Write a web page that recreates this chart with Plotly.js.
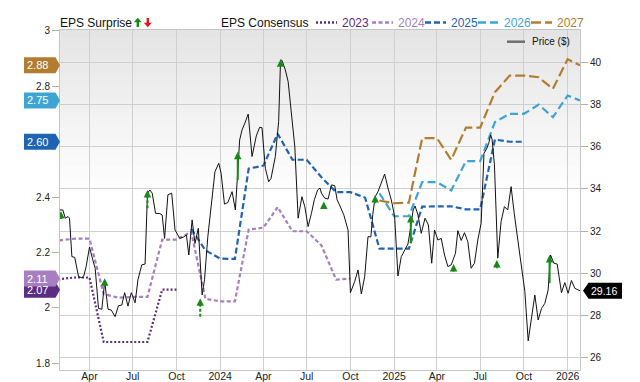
<!DOCTYPE html>
<html><head><meta charset="utf-8">
<script src="https://cdn.plot.ly/plotly-3.0.1.min.js"></script>
<style>html,body{margin:0;padding:0;background:#fff}#chart{width:640px;height:382px}</style>
</head><body><div id="chart"></div>
<script>
// ---------- DATA ----------
const priceDates = [
 '2023-01-29',
 '2023-02-04','2023-02-09','2023-02-15','2023-02-18','2023-02-23',
 '2023-03-01','2023-03-09','2023-03-16','2023-03-20','2023-03-25',
 '2023-04-01','2023-04-08','2023-04-13','2023-04-20','2023-04-27',
 '2023-05-03','2023-05-10','2023-05-17','2023-05-25',
 '2023-06-01','2023-06-08','2023-06-14','2023-06-21','2023-06-28',
 '2023-07-06','2023-07-12','2023-07-20','2023-07-27',
 '2023-08-01','2023-08-06','2023-08-11','2023-08-18','2023-08-27',
 '2023-09-01','2023-09-06','2023-09-13','2023-09-21','2023-09-28',
 '2023-10-08','2023-10-15','2023-10-22','2023-10-27',
 '2023-11-03','2023-11-09','2023-11-16','2023-11-24','2023-11-29',
 '2023-12-06','2023-12-15','2023-12-21','2023-12-29',
 '2024-01-03','2024-01-10','2024-01-17','2024-01-26',
 '2024-02-02','2024-02-11','2024-02-16','2024-02-22','2024-02-29',
 '2024-03-08','2024-03-17','2024-03-24','2024-03-29',
 '2024-04-05','2024-04-12','2024-04-17','2024-04-26',
 '2024-05-03','2024-05-07','2024-05-10','2024-05-17','2024-05-23','2024-05-30',
 '2024-06-06','2024-06-13','2024-06-21','2024-06-27',
 '2024-07-04','2024-07-11','2024-07-17','2024-07-24','2024-07-29',
 '2024-08-01','2024-08-08','2024-08-15','2024-08-22','2024-08-29',
 '2024-09-03','2024-09-08','2024-09-17','2024-09-26',
 '2024-10-01','2024-10-10','2024-10-17','2024-10-24','2024-10-31',
 '2024-11-07','2024-11-13','2024-11-17','2024-11-22','2024-11-28',
 '2024-12-05','2024-12-12','2024-12-19','2024-12-26',
 '2025-01-02','2025-01-09','2025-01-16','2025-01-23','2025-01-30',
 '2025-02-05','2025-02-10','2025-02-14','2025-02-20','2025-02-27',
 '2025-03-07','2025-03-14','2025-03-21','2025-03-27',
 '2025-04-03','2025-04-10','2025-04-17','2025-04-24',
 '2025-05-01','2025-05-10','2025-05-15','2025-05-22','2025-05-29',
 '2025-06-05','2025-06-12','2025-06-19','2025-06-26',
 '2025-07-03','2025-07-09','2025-07-14','2025-07-19','2025-07-23','2025-07-26','2025-07-31',
 '2025-08-07','2025-08-14','2025-08-21','2025-08-28',
 '2025-09-04','2025-09-11','2025-09-18','2025-09-25',
 '2025-10-03','2025-10-10','2025-10-17','2025-10-24','2025-10-31',
 '2025-11-07','2025-11-14','2025-11-21','2025-11-26',
 '2025-12-03','2025-12-10','2025-12-19','2025-12-26',
 '2026-01-02','2026-01-09','2026-01-16','2026-01-23','2026-01-27'
];
const priceValues = [
 33.0,
 33.0,32.61,32.69,32.61,30.78,
 30.75,29.83,29.78,29.86,30.31,
 31.23,30.63,30.23,28.32,28.28,
 29.60,28.28,28.24,27.93,
 28.45,28.48,29.07,28.43,29.07,
 28.59,29.68,30.39,30.43,
 33.80,33.95,33.80,32.84,32.83,
 32.76,31.65,33.72,33.80,32.05,
 31.65,31.70,31.81,30.86,
 32.53,31.41,32.13,28.96,29.68,
 31.73,33.80,34.82,35.22,
 34.74,33.28,33.35,33.87,
 33.0,36.33,36.81,37.13,37.56,
 35.54,36.52,36.93,36.91,
 34.98,34.34,34.50,35.54,
 37.20,40.13,40.11,39.66,39.10,37.43,
 36.01,32.61,33.63,33.16,
 32.21,32.84,33.48,33.95,34.04,
 33.80,33.56,33.52,34.19,34.16,
 33.48,33.24,32.77,32.05,
 29.07,29.60,30.15,29.01,29.83,
 31.73,31.72,32.77,33.63,33.87,
 34.34,34.71,34.04,33.48,
 32.69,29.86,30.78,31.07,31.38,
 32.21,33.0,33.19,32.77,31.89,
 32.61,32.29,30.47,32.05,
 31.57,31.65,30.86,30.31,
 30.39,30.94,32.02,31.55,31.92,
 31.49,30.23,30.47,31.57,
 32.37,35.70,35.88,36.17,36.57,36.36,35.14,
 30.71,32.45,33.16,33.0,
 34.11,32.77,31.57,30.31,
 29.12,26.78,27.77,28.96,27.77,
 28.32,28.56,29.20,30.86,
 30.47,30.43,29.07,29.55,
 29.04,29.65,29.28,29.20,29.16
];

const eps2023Dates = ['2023-01-01','2023-02-01','2023-03-01','2023-04-01','2023-05-01','2023-06-01','2023-07-01','2023-08-01','2023-09-01','2023-10-01'];
const eps2023Values = [2.09,2.105,2.11,2.11,1.877,1.877,1.877,1.877,2.066,2.066];

const eps2024Dates = ['2023-01-01','2023-02-01','2023-03-01','2023-04-01','2023-05-01','2023-06-01','2023-07-01','2023-08-01','2023-09-01','2023-10-01','2023-11-01','2023-12-01','2024-01-01','2024-02-01','2024-03-01','2024-04-01','2024-05-01','2024-06-01','2024-07-01','2024-08-01','2024-09-01','2024-10-01'];
const eps2024Values = [2.23,2.245,2.25,2.25,2.05,2.037,2.04,2.04,2.247,2.247,2.275,2.033,2.024,2.024,2.283,2.29,2.364,2.277,2.277,2.226,2.102,2.106];

const eps2025Dates = ['2023-11-01','2023-12-01','2024-01-01','2024-02-01','2024-03-01','2024-04-01','2024-05-01','2024-06-01','2024-07-01','2024-08-01','2024-09-01','2024-10-01','2024-11-01','2024-12-01','2025-01-01','2025-02-01','2025-03-01','2025-04-01','2025-05-01','2025-06-01','2025-07-01','2025-08-01','2025-09-01','2025-10-01'];
const eps2025Values = [2.286,2.208,2.178,2.177,2.503,2.514,2.629,2.535,2.535,2.472,2.418,2.418,2.398,2.214,2.214,2.214,2.366,2.367,2.367,2.356,2.356,2.608,2.60,2.60];

const eps2026Dates = ['2024-12-01','2025-01-01','2025-02-01','2025-03-01','2025-04-01','2025-05-01','2025-06-01','2025-07-01','2025-08-01','2025-09-01','2025-10-01','2025-11-01','2025-12-01','2026-01-01','2026-01-27'];
const eps2026Values = [2.414,2.331,2.331,2.454,2.454,2.424,2.530,2.530,2.671,2.701,2.701,2.734,2.689,2.767,2.749];

const eps2027Dates = ['2024-12-01','2025-01-01','2025-02-01','2025-03-01','2025-04-01','2025-05-01','2025-06-01','2025-07-01','2025-08-01','2025-09-01','2025-10-01','2025-11-01','2025-12-01','2026-01-01','2026-01-27'];
const eps2027Values = [2.388,2.378,2.38,2.613,2.613,2.535,2.651,2.651,2.779,2.839,2.839,2.833,2.791,2.898,2.876];

const surpriseDates = ['2023-01-31','2023-05-03','2023-08-01','2023-11-20','2024-02-07','2024-05-07','2024-08-06','2024-11-22','2025-02-05','2025-05-06','2025-08-05','2025-11-24'];
const surpriseTop   = [32.95,29.75,33.95,28.80,35.77,40.16,33.40,33.71,32.76,30.43,30.62,30.86];
const surpriseBase  = [32.57,29.36,33.08,27.93,34.43,39.85,33.08,33.32,31.42,30.07,30.23,29.52];
const surpriseDashed = [false,false,true,true,false,false,false,false,false,false,false,false];

const xTickDates  = ['2023-04-01','2023-07-01','2023-10-01','2024-01-01','2024-04-01','2024-07-01','2024-10-01','2025-01-01','2025-04-01','2025-07-01','2025-10-01','2026-01-01'];
const xTickLabels = ['Apr','Jul','Oct','2024','Apr','Jul','Oct','2025','Apr','Jul','Oct','2026'];
const epsTicks  = [1.8,2,2.2,2.4,2.8,3];
const epsTickLabels = ['1.8','2','2.2','2.4','2.8','3'];
const priceTicks = [26,28,30,32,34,36,38,40];

// ---------- STYLE / LAYOUT ----------
const FONT = 'Liberation Sans, Arial, Helvetica, sans-serif';
const M = {l:60, r:60, t:30, b:12};
const PW = 640 - M.l - M.r, PH = 382 - M.t - M.b;
const xRange = ['2023-01-29','2026-01-27'];
const epsRange = [1.776, 3.0035];
const priceRange = [25.394, 41.554];
const GREEN = '#178a17';

const series = [
  {label:'2023', x:eps2023Dates, y:eps2023Values, color:'#5b2c83', dash:'2px,2px', width:2.2},
  {label:'2024', x:eps2024Dates, y:eps2024Values, color:'#a77fc1', dash:'4px,2.5px', width:2.2},
  {label:'2025', x:eps2025Dates, y:eps2025Values, color:'#1f63b3', dash:'6px,3px', width:2.2},
  {label:'2026', x:eps2026Dates, y:eps2026Values, color:'#3ea5d3', dash:'8px,4px', width:2.2},
  {label:'2027', x:eps2027Dates, y:eps2027Values, color:'#b27d30', dash:'10px,4px', width:2.2}
];

const px2p = px => (px - M.l) / PW;
const py2p = py => (M.t + PH - py) / PH;
const eps2p = v => (v - epsRange[0]) / (epsRange[1] - epsRange[0]);
const price2p = v => (v - priceRange[0]) / (priceRange[1] - priceRange[0]);

const traces = [];
series.forEach(s => traces.push({
  type:'scatter', mode:'lines', x:s.x, y:s.y, yaxis:'y',
  line:{color:s.color, width:s.width, dash:s.dash}, hoverinfo:'skip'
}));
traces.push({type:'scatter', mode:'lines', x:priceDates, y:priceValues, yaxis:'y2',
  line:{color:'#111', width:1}, hoverinfo:'skip'});

// surprise arrows: shafts + heads
['solid','dashed'].forEach(kind => {
  const xs = [], ys = [];
  surpriseDates.forEach((d,i) => {
    if ((kind === 'dashed') !== surpriseDashed[i]) return;
    xs.push(d, d, null); ys.push(surpriseBase[i], surpriseTop[i] - 0.15, null);
  });
  traces.push({type:'scatter', mode:'lines', x:xs, y:ys, yaxis:'y2', connectgaps:false,
    line:{color:GREEN, width:2, dash: kind === 'dashed' ? '3px,2px' : 'solid'}, hoverinfo:'skip'});
});
traces.push({type:'scatter', mode:'markers', x:surpriseDates, y:surpriseTop, yaxis:'y2',
  marker:{symbol:'arrow-up', size:7.5, color:GREEN, line:{width:0}}, hoverinfo:'skip'});

const shapes = [];
const annotations = [];

// background gradient (top grey fading to white)
const gTop = M.t, gBot = 196, nB = 40;
for (let i = 0; i < nB; i++) {
  const y0 = gTop + (gBot - gTop) * i / nB;
  const y1 = gTop + (gBot - gTop) * (i + 1) / nB + 0.8;
  const t = (i + 0.5) / nB;
  const c = Math.round(228 + (255 - 228) * t);
  shapes.push({type:'rect', xref:'paper', yref:'paper', layer:'below',
    x0:0, x1:1, y0:py2p(Math.min(y1, gBot)), y1:py2p(y0),
    fillcolor:`rgb(${c},${c},${c})`, line:{width:0}});
}

// left-side value badges for each EPS series (last value)
series.forEach(s => {
  const v = s.y[s.y.length - 1];
  const yc = eps2p(v), h = 8 / PH;
  const xa = px2p(24), xb = px2p(55.5), xt = px2p(60);
  shapes.push({type:'path', xref:'paper', yref:'paper', layer:'above',
    path:`M${xa},${yc+h} L${xb},${yc+h} L${xt},${yc} L${xb},${yc-h} L${xa},${yc-h} Z`,
    fillcolor:s.color, line:{width:0}});
  annotations.push({xref:'paper', yref:'paper', x:px2p(25), y:yc, xanchor:'left', yanchor:'middle',
    text:v.toFixed(2), showarrow:false, font:{family:FONT, size:11, color:'#fff'}});
});

// right-side price badge
{
  const v = priceValues[priceValues.length - 1];
  const yc = price2p(v), h = 8 / PH;
  const xt = px2p(583), xb = px2p(588.5), xe = px2p(622);
  shapes.push({type:'path', xref:'paper', yref:'paper', layer:'above',
    path:`M${xt},${yc} L${xb},${yc+h} L${xe},${yc+h} L${xe},${yc-h} L${xb},${yc-h} Z`,
    fillcolor:'#000', line:{width:0}});
  annotations.push({xref:'paper', yref:'paper', x:px2p(588.5), y:yc, xanchor:'left', yanchor:'middle',
    text:v.toFixed(2), showarrow:false, font:{family:FONT, size:10.5, color:'#fff'}});
}

// header legend
const LY = 22.5;
annotations.push({xref:'paper', yref:'paper', x:px2p(58), y:py2p(LY), xanchor:'left', yanchor:'middle',
  text:'EPS Surprise', showarrow:false, font:{family:FONT, size:12, color:'#111'}});
shapes.push({type:'path', xref:'paper', yref:'paper', layer:'above', fillcolor:GREEN, line:{width:0},
  path:`M${px2p(137.8)},${py2p(17.8)} L${px2p(141.8)},${py2p(22.3)} L${px2p(139)},${py2p(22.3)} L${px2p(139)},${py2p(27)} L${px2p(136.6)},${py2p(27)} L${px2p(136.6)},${py2p(22.3)} L${px2p(133.8)},${py2p(22.3)} Z`});
shapes.push({type:'path', xref:'paper', yref:'paper', layer:'above', fillcolor:'#e8161b', line:{width:0},
  path:`M${px2p(147.8)},${py2p(27.2)} L${px2p(151.8)},${py2p(22.7)} L${px2p(149)},${py2p(22.7)} L${px2p(149)},${py2p(18)} L${px2p(146.6)},${py2p(18)} L${px2p(146.6)},${py2p(22.7)} L${px2p(143.8)},${py2p(22.7)} Z`});

annotations.push({xref:'paper', yref:'paper', x:px2p(219), y:py2p(LY), xanchor:'left', yanchor:'middle',
  text:'EPS Consensus', showarrow:false, font:{family:FONT, size:12, color:'#111'}});
const legX = [316, 372, 425, 478, 531];
series.forEach((s,i) => {
  const x0 = legX[i];
  shapes.push({type:'line', xref:'paper', yref:'paper', layer:'above',
    x0:px2p(x0), x1:px2p(x0 + 21), y0:py2p(LY), y1:py2p(LY),
    line:{color:s.color, width:2.4, dash:s.dash}});
  annotations.push({xref:'paper', yref:'paper', x:px2p(x0 + 24), y:py2p(LY), xanchor:'left', yanchor:'middle',
    text:s.label, showarrow:false, font:{family:FONT, size:12, color:s.color}});
});
shapes.push({type:'line', xref:'paper', yref:'paper', layer:'above',
  x0:px2p(507), x1:px2p(525), y0:py2p(41.7), y1:py2p(41.7), line:{color:'#6e6e6e', width:2.5}});
annotations.push({xref:'paper', yref:'paper', x:px2p(530), y:py2p(41.7), xanchor:'left', yanchor:'middle',
  text:'Price ($)', showarrow:false, font:{family:FONT, size:10, color:'#111'}});

const layout = {
  width:640, height:382, margin:M, showlegend:false, hovermode:false,
  paper_bgcolor:'#fff', plot_bgcolor:'#fff',
  font:{family:FONT, size:10, color:'#222'},
  xaxis:{type:'date', range:xRange, tickvals:xTickDates, ticktext:xTickLabels,
    showgrid:true, gridcolor:'#cfcfcf', gridwidth:1, showline:true, linecolor:'#c6c6c6', mirror:true,
    ticks:'', zeroline:false, ticklabelstandoff:-4, tickfont:{family:FONT, size:10.5, color:'#222'}},
  yaxis:{range:epsRange, tickvals:epsTicks, ticktext:epsTickLabels, showgrid:false, zeroline:false,
    showline:true, linecolor:'#c6c6c6', ticks:'outside', ticklen:7, tickcolor:'#b0b0b0',
    tickfont:{family:FONT, size:10, color:'#222'}},
  yaxis2:{range:priceRange, tickvals:priceTicks, overlaying:'y', side:'right', showgrid:true,
    gridcolor:'#cfcfcf', zeroline:false, showline:true, linecolor:'#c6c6c6', ticks:'outside',
    ticklen:7, tickcolor:'#b0b0b0', tickfont:{family:FONT, size:10, color:'#222'}},
  shapes:shapes, annotations:annotations
};

Plotly.newPlot('chart', traces, layout, {staticPlot:true, displayModeBar:false});
</script>
</body></html>
